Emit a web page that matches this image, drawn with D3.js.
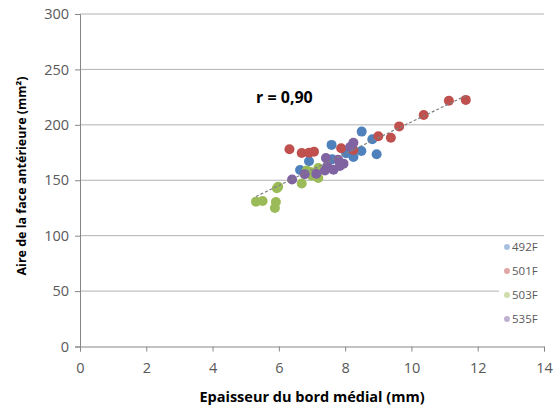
<!DOCTYPE html>
<html>
<head>
<meta charset="utf-8">
<script src="https://cdn.jsdelivr.net/npm/d3@7"></script>
<style>
  body { margin: 0; background: #fff; }
  text { font-family: "Open Sans", Lato, sans-serif; }
</style>
</head>
<body>
<div id="main"></div>
<script>
// ===================== data =====================
var seriesNames = ['492F', '501F', '503F', '535F'];
var seriesColors = ['#4F81BD', '#C0504D', '#9BBB59', '#8064A2'];

// [epaisseur (mm), aire (mm²)]
var pts492F = [[8.50, 193.9], [7.59, 181.9], [8.82, 187.0], [8.95, 173.5], [6.91, 167.1],
	[6.64, 159.3], [8.03, 174.4], [8.49, 176.4], [8.25, 171.0], [7.61, 169.0]];
var pts501F = [[6.32, 178.0], [6.69, 174.6], [6.91, 174.9], [7.06, 175.8], [7.88, 178.9],
	[8.25, 177.3], [9.00, 189.7], [9.38, 188.4], [9.63, 198.6], [10.37, 208.9],
	[11.13, 221.8], [11.64, 222.5]];
var pts503F = [[5.31, 130.7], [5.51, 131.3], [5.88, 125.0], [5.91, 130.4], [5.94, 142.8],
	[5.98, 144.2], [6.69, 147.1], [6.84, 158.8], [7.19, 161.1], [7.19, 152.1],
	[7.00, 154.0], [6.95, 157.5]];
var pts535F = [[8.25, 183.9], [7.42, 170.1], [7.79, 168.5], [7.84, 162.9], [6.78, 155.5],
	[6.40, 150.6], [7.39, 158.8], [7.65, 159.4], [7.13, 155.8], [8.15, 180.0],
	[7.46, 162.9], [7.95, 165.0]];

var xTicks = [0, 2, 4, 6, 8, 10, 12, 14];
var yTicks = [0, 50, 100, 150, 200, 250, 300];
var rLabel = 'r = 0,90';
var xTitle = 'Epaisseur du bord médial (mm)';
var yTitle = 'Aire de la face antérieure (mm²)';

// ===================== layout =====================
const W = 554, H = 417;
const plot = { left: 80, right: 544, top: 14, bottom: 346.5 };
const gridColor = '#B2B2B2';
const axisColor = '#868686';
const textColor = '#595959';

const svg = d3.select('#main').append('svg')
	.attr('width', W)
	.attr('height', H);

var x = d3.scaleLinear().domain([0, 14]).range([plot.left, plot.right]);
var y = d3.scaleLinear().domain([0, 300]).range([plot.bottom, plot.top]);

// horizontal gridlines
svg.append('g').selectAll('line')
	.data(yTicks.filter(d => d > 0))
	.enter().append('line')
	.attr('x1', plot.left).attr('x2', plot.right)
	.attr('y1', d => y(d)).attr('y2', d => y(d))
	.attr('stroke', gridColor).attr('stroke-width', 1);

// axes
var yAxis = svg.append('g')
	.attr('transform', 'translate(' + plot.left + ',0)')
	.call(d3.axisLeft(y).tickValues(yTicks).tickSize(5).tickPadding(6));
var xAxis = svg.append('g')
	.attr('transform', 'translate(0,' + plot.bottom + ')')
	.call(d3.axisBottom(x).tickValues(xTicks).tickSize(5).tickPadding(11));

[xAxis, yAxis].forEach(function(ax) {
	ax.select('.domain').attr('stroke', axisColor);
	ax.selectAll('.tick line').attr('stroke', axisColor);
	ax.selectAll('.tick text')
		.attr('fill', textColor)
		.style('font-size', '14.5px')
		.style('font-family', '"Open Sans", sans-serif');
});

// ===================== trendline (least squares over all points) =====================
var allPts = pts492F.concat(pts501F, pts503F, pts535F);
var mx = d3.mean(allPts, d => d[0]);
var my = d3.mean(allPts, d => d[1]);
var slope = d3.sum(allPts, d => (d[0] - mx) * (d[1] - my)) / d3.sum(allPts, d => (d[0] - mx) * (d[0] - mx));
var intercept = my - slope * mx;
var xExt = d3.extent(allPts, d => d[0]);

// ===================== points =====================
var seriesData = [pts492F, pts501F, pts503F, pts535F];
seriesData.forEach(function(pts, i) {
	svg.append('g').selectAll('circle')
		.data(pts)
		.enter().append('circle')
		.attr('cx', d => x(d[0]))
		.attr('cy', d => y(d[1]))
		.attr('r', 5)
		.style('fill', seriesColors[i]);
});

svg.append('line')
	.attr('x1', x(xExt[0])).attr('y1', y(intercept + slope * xExt[0]))
	.attr('x2', x(xExt[1])).attr('y2', y(intercept + slope * xExt[1]))
	.attr('stroke', '#7F7F7F')
	.attr('stroke-width', 1.2)
	.attr('stroke-dasharray', '3,2');

// r label
svg.append('text')
	.attr('x', 256).attr('y', 103)
	.style('font-size', '16px')
	.style('font-weight', 'bold')
	.attr('fill', '#000')
	.text(rLabel);

// ===================== legend =====================
var legend = svg.append('g');
legend.append('rect')
	.attr('x', 499).attr('y', 237)
	.attr('width', 52).attr('height', 101)
	.attr('fill', '#fff');
seriesNames.forEach(function(name, i) {
	var ly = 247 + i * 24;
	legend.append('circle')
		.attr('cx', 507).attr('cy', ly)
		.attr('r', 3)
		.style('fill', seriesColors[i])
		.style('opacity', 0.5);
	legend.append('text')
		.attr('x', 512).attr('y', ly + 4)
		.attr('fill', textColor)
		.style('font-size', '11.5px')
		.text(name);
});

// ===================== titles =====================
svg.append('text')
	.attr('x', (plot.left + plot.right) / 2).attr('y', 402)
	.attr('text-anchor', 'middle')
	.style('font-size', '14.5px')
	.style('font-weight', 'bold')
	.attr('fill', '#000')
	.text(xTitle);

svg.append('text')
	.attr('transform', 'translate(26,' + 176 + ') rotate(-90)')
	.attr('text-anchor', 'middle')
	.style('font-size', '12.5px')
	.style('font-weight', 'bold')
	.attr('fill', '#000')
	.text(yTitle);
</script>
</body>
</html>
